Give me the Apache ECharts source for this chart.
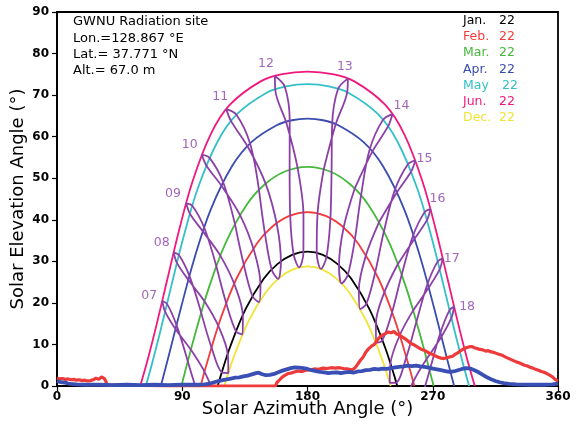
<!DOCTYPE html>
<html>
<head>
<meta charset="utf-8">
<script src="https://cdn.jsdelivr.net/npm/echarts@6/dist/echarts.min.js"></script>
<style>
  html, body { margin: 0; padding: 0; background: #fff; }
  #chart { width: 579px; height: 426px; }
</style>
</head>
<body>
<div id="chart"></div>
<script>
// Sun-path diagram: daily solar tracks (22nd of the month) and hourly analemmas,
// [azimuth deg, elevation deg] pairs.

const monthLabels = ['Jan.', 'Feb.', 'Mar.', 'Apr.', 'May', 'Jun.', 'Dec.'];
const dayLabel = '22';

const pathJan = [[115.51,0],[117.78,2.62],[124.37,9.39],[135.49,18.49],[148.52,25.80],[158.35,29.34],[168.95,31.57],[180,32.33],[191.05,31.57],[201.65,29.34],[211.48,25.80],[224.51,18.49],[235.63,9.39],[242.22,2.62],[244.49,0]];
const pathFeb = [[103.20,0],[107.45,5.20],[117.53,16.15],[129.27,26.05],[143.50,34.25],[154.61,38.32],[166.94,40.93],[180,41.83],[193.06,40.93],[205.39,38.32],[216.50,34.25],[230.73,26.05],[242.47,16.15],[252.55,5.20],[256.80,0]];
const pathMar = [[89.37,0],[98.92,12.12],[109.07,23.61],[121.05,34.35],[136.32,43.62],[148.97,48.43],[163.76,51.61],[180,52.73],[196.24,51.61],[211.03,48.43],[223.68,43.62],[238.95,34.35],[250.93,23.61],[261.08,12.12],[270.63,0]];
const pathApr = [[74.62,0],[80.38,7.38],[89.35,19.17],[98.97,30.99],[110.45,42.45],[125.83,52.92],[139.90,58.73],[158.18,62.79],[168.81,63.95],[180,64.33],[191.19,63.95],[201.82,62.79],[220.10,58.73],[234.17,52.92],[249.55,42.45],[261.03,30.99],[270.65,19.17],[279.62,7.38],[285.38,0]];
const pathMay = [[63.84,0],[67.88,4.87],[73.62,12.33],[82.02,23.91],[90.81,35.73],[101.13,47.51],[115.31,58.78],[129.47,65.47],[150.68,70.59],[164.59,72.10],[180,72.63],[195.41,72.10],[209.32,70.59],[230.53,65.47],[244.69,58.78],[258.87,47.51],[269.19,35.73],[277.98,23.91],[286.38,12.33],[292.12,4.87],[296.16,0]];
const pathJun = [[59.79,0],[65.49,6.76],[71.08,14.10],[79.20,25.55],[87.59,37.32],[97.32,49.15],[110.59,60.66],[124.25,67.69],[146.31,73.31],[161.95,75.05],[180,75.66],[198.05,75.05],[213.69,73.31],[235.75,67.69],[249.41,60.66],[262.68,49.15],[272.41,37.32],[280.80,25.55],[288.92,14.10],[294.51,6.76],[300.21,0]];
const pathDec = [[120.21,0],[126.85,6.83],[137.65,15.62],[150.20,22.61],[159.58,25.97],[169.60,28.07],[180,28.79],[190.40,28.07],[200.42,25.97],[209.80,22.61],[222.35,15.62],[233.15,6.83],[239.79,0]];

// Hourly analemmas (local standard time), one point per month, Jan 22 .. Dec 22
const hourLabels = ['07','08','09','10','11','12','13','14','15','16','17','18'];
const hour07 = [[109.38,-7.54],[101.57,-2.07],[93.99,5.95],[85.89,14.65],[79.04,19.77],[75.64,20.46],[77.77,17.84],[85.64,13.46],[96.37,8.64],[106.66,3.00],[113.35,-3.03],[114.09,-7.29]];
const hour08 = [[118.43,3.30],[111.00,9.30],[103.59,17.66],[95.16,26.49],[87.60,31.53],[83.81,32.11],[86.27,29.57],[94.88,25.31],[106.19,20.26],[116.54,14.02],[122.79,7.43],[123.11,3.12]];
const hour09 = [[128.59,13.18],[121.59,19.93],[114.48,28.86],[105.74,38.14],[97.20,43.37],[92.75,43.95],[95.63,41.41],[105.36,36.97],[117.55,31.26],[127.95,24.05],[133.58,16.75],[133.33,12.44]];
const hour10 = [[140.42,21.65],[134.15,29.29],[127.84,39.01],[119.30,49.10],[109.60,54.90],[104.02,55.67],[107.42,53.02],[118.66,47.97],[131.71,41.02],[141.67,32.48],[146.21,24.40],[145.19,20.19]];
const hour11 = [[154.28,28.06],[149.43,36.65],[145.13,47.20],[138.73,58.35],[128.94,65.28],[121.62,66.63],[125.19,63.68],[137.49,57.34],[150.09,48.53],[158.22,38.44],[160.87,29.70],[158.86,25.76]];
const hour12 = [[170.01,31.71],[167.57,41.01],[167.16,52.04],[167.21,63.83],[163.68,72.03],[156.59,74.60],[156.84,71.29],[165.01,63.12],[172.98,52.32],[177.10,40.98],[177.06,31.98],[174.01,28.56]];
const hour13 = [[186.62,32.06],[187.23,41.56],[191.69,52.16],[200.31,63.03],[208.52,70.71],[209.00,73.97],[201.87,71.43],[197.69,62.84],[197.28,51.25],[196.34,39.59],[193.52,30.88],[189.65,28.18]];
const hour14 = [[202.64,29.05],[205.97,38.15],[213.92,47.52],[226.58,56.41],[237.86,62.46],[241.07,65.41],[234.09,63.98],[224.43,56.64],[218.39,45.68],[213.70,34.55],[208.81,26.58],[204.52,24.68]];
const hour15 = [[216.91,23.15],[222.05,31.50],[231.44,39.45],[244.30,46.62],[254.48,51.60],[257.53,54.30],[252.15,53.37],[242.65,47.07],[234.80,37.04],[228.24,26.76],[222.17,19.68],[217.77,18.53]];
const hour16 = [[229.14,15.05],[235.28,22.59],[244.95,29.37],[256.94,35.44],[265.79,39.93],[268.39,42.54],[264.05,41.78],[255.62,35.99],[247.60,26.65],[240.25,17.13],[233.57,10.89],[229.21,10.37]];
const hour17 = [[239.60,5.41],[246.31,12.24],[255.92,18.20],[267.10,23.71],[274.96,28.08],[277.18,30.71],[273.46,29.93],[265.95,24.30],[258.15,15.32],[250.51,6.36],[243.42,0.78],[239.11,0.75]];
const hour18 = [[248.84,-5.27],[255.98,1.02],[265.56,6.51],[276.21,11.87],[283.41,16.38],[285.33,19.09],[281.96,18.20],[275.13,12.45],[267.61,3.57],[259.77,-5.09],[252.28,-10.20],[247.91,-9.86]];

// Measured horizon profiles along the azimuth
const horizonRed = [[0,1.9],[2,1.7],[4,1.8],[6,1.6],[8,1.7],[10,1.5],[12,1.6],[14,1.4],[16,1.5],[18,1.3],[20,1.4],[22,1.2],[24,1.3],[26,1.5],[28,1.9],[30,1.6],[32,2.2],[34,1.8],[35,1.2],[36,0.3],[37,0],[80,0],[157,0],[158,0.8],[160,1.5],[162,2.2],[164,2.6],[166,3.0],[168,3.1],[170,3.3],[173,3.6],[176,3.5],[179,3.8],[182,3.9],[185,4.1],[188,4.0],[191,4.3],[194,4.2],[197,4.4],[200,4.3],[203,4.4],[206,4.2],[209,4.1],[212,3.9],[214,4.3],[216,5.2],[218,6.2],[220,7.0],[222,8.2],[224,9.0],[226,9.6],[228,10.0],[230,11.0],[232,11.8],[234,12.3],[236,12.6],[238,13.0],[240,12.8],[242,13.1],[244,12.5],[246,12.3],[248,11.8],[250,11.4],[252,10.9],[254,10.3],[256,10.0],[258,9.6],[260,9.2],[262,8.8],[264,8.6],[266,8.2],[268,7.8],[270,7.6],[272,7.2],[274,6.9],[276,6.7],[278,6.6],[280,6.8],[282,7.0],[284,7.1],[286,7.6],[288,8.0],[290,8.5],[292,8.9],[294,9.2],[296,9.4],[298,9.5],[300,9.2],[302,9.0],[304,8.8],[306,8.7],[308,8.4],[310,8.5],[312,8.2],[314,8.1],[316,7.8],[318,7.6],[320,7.4],[322,7.0],[324,6.7],[326,6.4],[328,6.1],[330,5.8],[332,5.6],[334,5.3],[336,5.0],[338,4.8],[340,4.5],[342,4.3],[344,4.0],[346,3.8],[348,3.5],[350,3.3],[352,3.0],[354,2.6],[356,2.2],[358,1.6],[360,1.2]];
const horizonBlue = [[0,1.2],[2,1.0],[4,0.9],[6,0.8],[8,0.6],[10,0.5],[14,0.4],[20,0.3],[30,0.3],[40,0.2],[50,0.3],[60,0.2],[70,0.3],[80,0.2],[90,0.3],[100,0.3],[106,0.4],[110,0.6],[113,0.9],[116,1.2],[119,1.4],[122,1.6],[125,1.8],[128,2.0],[131,2.1],[134,2.3],[137,2.5],[140,2.8],[143,3.1],[145,3.2],[147,2.9],[150,2.6],[153,2.7],[156,2.9],[159,3.3],[162,3.7],[165,4.0],[168,4.3],[171,4.5],[174,4.4],[177,4.3],[180,4.1],[183,3.8],[186,3.6],[189,3.4],[192,3.3],[195,3.1],[198,3.2],[201,3.3],[204,3.1],[207,3.3],[210,3.4],[213,3.2],[216,3.5],[219,3.6],[222,3.8],[225,3.9],[228,4.1],[231,4.0],[234,4.2],[237,4.1],[240,4.3],[243,4.5],[246,4.6],[249,4.7],[252,4.9],[255,4.8],[258,4.9],[261,4.7],[264,4.6],[267,4.4],[270,4.2],[273,4.0],[276,3.8],[279,3.6],[282,3.4],[285,3.5],[288,3.8],[291,4.1],[294,4.3],[297,4.2],[300,3.8],[303,3.3],[306,2.7],[309,2.1],[312,1.6],[315,1.2],[318,0.9],[321,0.7],[325,0.5],[330,0.4],[340,0.3],[350,0.3],[356,0.4],[360,0.6]];

const xTicks = [0, 90, 180, 270, 360];

// ---- styling ----
const FONT = 'DejaVu Sans';
const sunPaths = [pathJan, pathFeb, pathMar, pathApr, pathMay, pathJun, pathDec];
const pathColors = ['#000000', '#f23c3c', '#46b83c', '#3a4cb0', '#34c0c8', '#f0187c', '#f0e436'];
const analemmas = [hour07, hour08, hour09, hour10, hour11, hour12, hour13, hour14, hour15, hour16, hour17, hour18];
const PURPLE = '#8b40a8';
const labelOffsets = [[-13,-5],[-12,-10],[-13,-10],[-12,-10],[-6,-12],[-9,-12],[-3,-12],[9,-8],[9,-2],[7,-10],[9,0],[13,0]];

// Close each loop, starting on the straight March flank so the seam stays hidden
function closedLoop(pts) {
  const start = 2;
  return pts.slice(start).concat(pts.slice(0, start + 1));
}

const series = [];
sunPaths.forEach((pts, i) => {
  series.push({
    type: 'line', data: pts, smooth: 0.35, showSymbol: false, silent: true,
    lineStyle: { color: pathColors[i], width: 1.8 }, z: 2
  });
});
analemmas.forEach((pts) => {
  series.push({
    type: 'line', data: closedLoop(pts), smooth: 0.33, showSymbol: false, silent: true,
    lineStyle: { color: PURPLE, width: 1.8 }, z: 3
  });
});
series.push({
  type: 'scatter', symbolSize: 0, silent: true, z: 5,
  data: analemmas.map((pts, i) => ({
    value: pts[5],
    label: {
      show: true, formatter: hourLabels[i], position: 'inside', offset: labelOffsets[i],
      color: PURPLE, fontFamily: FONT, fontSize: 12.5
    }
  }))
});
series.push({
  type: 'line', data: horizonRed, showSymbol: false, silent: true,
  lineStyle: { color: '#ee3a3a', width: 3.2 }, z: 4
});
series.push({
  type: 'line', data: horizonBlue, showSymbol: false, silent: true,
  lineStyle: { color: '#3a4fb4', width: 3.8 }, z: 4
});

const infoLines = ['GWNU Radiation site', 'Lon.=128.867 \u00b0E', 'Lat.= 37.771 \u00b0N', 'Alt.= 67.0 m'];
const graphic = [];
infoLines.forEach((t, i) => {
  graphic.push({
    type: 'text', x: 73, y: 22 + i * 16.2,
    style: { text: t, fill: '#000', fontFamily: FONT, fontSize: 13, verticalAlign: 'middle', textVerticalAlign: 'middle' }
  });
});
monthLabels.forEach((m, i) => {
  const y = 21 + i * 16.1;
  graphic.push({
    type: 'text', x: 463, y: y,
    style: { text: m, fill: pathColors[i], fontFamily: FONT, fontSize: 12.5, verticalAlign: 'middle', textVerticalAlign: 'middle' }
  });
  graphic.push({
    type: 'text', x: m === 'May' ? 502 : 499, y: y,
    style: { text: dayLabel, fill: pathColors[i], fontFamily: FONT, fontSize: 12.5, verticalAlign: 'middle', textVerticalAlign: 'middle' }
  });
});

const chart = echarts.init(document.getElementById('chart'), null, { renderer: 'canvas' });
chart.setOption({
  animation: false,
  backgroundColor: '#fff',
  grid: {
    left: 57, top: 12, width: 501, height: 374, containLabel: false, outerBoundsMode: 'none',
    show: true, borderColor: '#000', borderWidth: 1.8, backgroundColor: 'transparent'
  },
  xAxis: {
    type: 'value', min: xTicks[0], max: xTicks[xTicks.length - 1], interval: 90,
    name: 'Solar Azimuth Angle (\u00b0)', nameLocation: 'middle', nameGap: 14, nameMoveOverlap: false,
    nameTextStyle: { color: '#000', fontFamily: FONT, fontSize: 18 },
    axisLine: { show: true, lineStyle: { color: '#000', width: 1.8 } },
    axisTick: { show: true, inside: false, length: 5, lineStyle: { color: '#000', width: 1.2 } },
    axisLabel: { color: '#000', fontFamily: FONT, fontSize: 12, fontWeight: 'bold', margin: 5 },
    splitLine: { show: false }
  },
  yAxis: {
    type: 'value', min: 0, max: 90, interval: 10,
    name: 'Solar Elevation Angle (\u00b0)', nameLocation: 'middle', nameGap: 30, nameMoveOverlap: false,
    nameTextStyle: { color: '#000', fontFamily: FONT, fontSize: 18 },
    axisLine: { show: true, lineStyle: { color: '#000', width: 1.8 } },
    axisTick: { show: true, inside: false, length: 5, lineStyle: { color: '#000', width: 1.2 } },
    axisLabel: { color: '#000', fontFamily: FONT, fontSize: 12, fontWeight: 'bold', margin: 8 },
    splitLine: { show: false }
  },
  graphic: graphic,
  series: series
});
</script>
</body>
</html>
